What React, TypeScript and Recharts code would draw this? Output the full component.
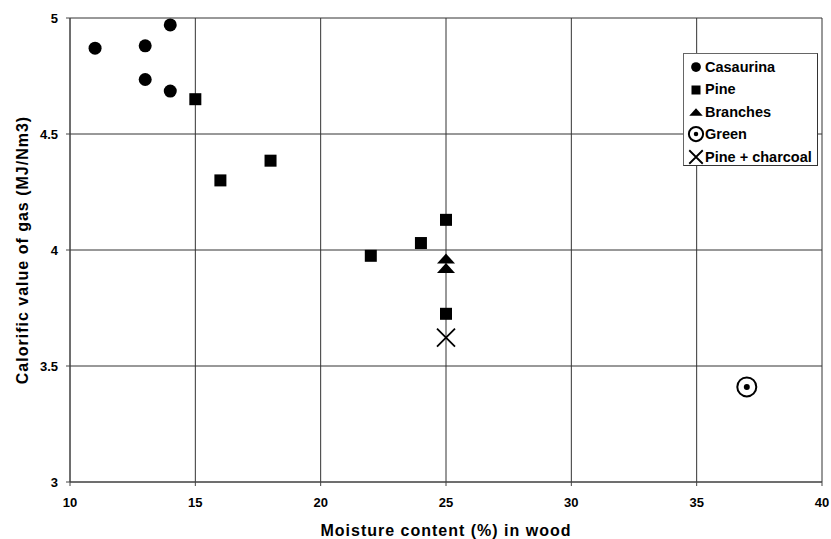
import React from 'react'
import {
  ScatterChart,
  Scatter,
  XAxis,
  YAxis,
  CartesianGrid,
  Legend,
  Label,
} from 'recharts'

// moisture content (%) / calorific value (MJ/Nm3) per wood type
const casaurinaMoisture = [11, 13, 14, 13, 14]
const casaurinaValue = [4.87, 4.88, 4.97, 4.735, 4.685]

const pineMoisture = [15, 16, 18, 22, 24, 25, 25]
const pineValue = [4.65, 4.3, 4.385, 3.975, 4.03, 4.13, 3.725]

const branchesMoisture = [25, 25]
const branchesValue = [3.963, 3.922]

const greenMoisture = [37]
const greenValue = [3.41]

const charcoalMoisture = [25]
const charcoalValue = [3.622]

const xTicks = [10, 15, 20, 25, 30, 35, 40]
const yTicks = [3, 3.5, 4, 4.5, 5]

const seriesNames = ['Casaurina', 'Pine', 'Branches', 'Green', 'Pine + charcoal']

const zip = (xs: number[], ys: number[]) => xs.map((x, i) => ({ x, y: ys[i] }))

const FONT = '"Liberation Sans", Arial, sans-serif'

const CircleMark = ({ cx, cy, s = 1 }: any) => <circle cx={cx} cy={cy} r={6.5 * s} fill="#000" />

const SquareMark = ({ cx, cy, s = 1 }: any) => (
  <rect x={cx - 6 * s} y={cy - 6 * s} width={12 * s} height={12 * s} fill="#000" />
)

const TriangleMark = ({ cx, cy, s = 1 }: any) => (
  <polygon
    points={`${cx - 9 * s},${cy + 5 * s} ${cx},${cy - 5 * s} ${cx + 9 * s},${cy + 5 * s}`}
    fill="#000"
  />
)

const GreenMark = ({ cx, cy, s = 1 }: any) => (
  <g>
    <circle cx={cx} cy={cy} r={9.5 * s} fill="none" stroke="#000" strokeWidth={2} />
    <circle cx={cx} cy={cy} r={3 * s} fill="#000" />
  </g>
)

const CrossMark = ({ cx, cy, s = 1 }: any) => {
  const a = 9 * s
  return (
    <g>
      <path d={`M${cx - 3},${cy - 3}L${cx + 3},${cy + 3}M${cx - 3},${cy + 3}L${cx + 3},${cy - 3}`} stroke="#e020e0" strokeWidth={1} />
      <path d={`M${cx - a},${cy - a}L${cx + a},${cy + a}M${cx - a},${cy + a}L${cx + a},${cy - a}`} stroke="#000" strokeWidth={1.8} />
    </g>
  )
}

const marks = [CircleMark, SquareMark, TriangleMark, GreenMark, CrossMark]

function LegendBox() {
  return (
    <div
      style={{
        boxSizing: 'border-box',
        width: 135,
        height: 113,
        border: '1px solid #666',
        borderRightColor: '#333',
        borderBottomColor: '#333',
        background: '#fff',
        padding: '2px 0 0 3px',
        fontFamily: FONT,
        fontWeight: 'bold',
        fontSize: 14.5,
        color: '#000',
        lineHeight: 1,
      }}
    >
      {seriesNames.map((name, i) => {
        const Mark = marks[i]
        return (
          <div key={name} style={{ display: 'flex', alignItems: 'center', height: 22.4 }}>
            <svg width={18} height={22} style={{ flex: 'none' }}>
              <Mark cx={9} cy={11} s={0.75} />
            </svg>
            <span style={{ whiteSpace: 'nowrap' }}>{name}</span>
          </div>
        )
      })}
    </div>
  )
}

export default function App() {
  const tickStyle = { fontFamily: FONT, fontWeight: 'bold', fontSize: 13, fill: '#000' }
  const titleStyle = {
    fontFamily: FONT,
    fontWeight: 'bold',
    fontSize: 16,
    letterSpacing: 1,
    fill: '#000',
  }
  return (
    <div style={{ position: 'absolute', left: 0, top: 0, background: '#fff' }}>
      <ScatterChart width={831} height={539} margin={{ top: 18, right: 9, bottom: 0, left: 0 }}>
        <CartesianGrid stroke="#333" strokeWidth={1} />
        <XAxis
          type="number"
          dataKey="x"
          domain={[10, 40]}
          ticks={xTicks}
          height={57}
          stroke="#444"
          tickSize={4}
          tickMargin={12}
          tick={tickStyle}
          interval={0}
        >
          <Label value="Moisture content (%) in wood" position="insideBottom" offset={3} style={titleStyle} />
        </XAxis>
        <YAxis
          type="number"
          dataKey="y"
          domain={[3, 5]}
          ticks={yTicks}
          width={70}
          stroke="#444"
          tickSize={4}
          tickMargin={8}
          tick={tickStyle}
          interval={0}
        >
          <Label
            value="Calorific value of gas (MJ/Nm3)"
            angle={-90}
            position="insideLeft"
            offset={22}
            style={{ ...titleStyle, textAnchor: 'middle' }}
          />
        </YAxis>
        <Legend
          layout="horizontal"
          verticalAlign="middle"
          align="center"
          wrapperStyle={{ top: 53, left: 683, width: 135, height: 113 }}
          content={() => <LegendBox />}
        />
        <Scatter name="Casaurina" data={zip(casaurinaMoisture, casaurinaValue)} shape={CircleMark} isAnimationActive={false} />
        <Scatter name="Pine" data={zip(pineMoisture, pineValue)} shape={SquareMark} isAnimationActive={false} />
        <Scatter name="Branches" data={zip(branchesMoisture, branchesValue)} shape={TriangleMark} isAnimationActive={false} />
        <Scatter name="Green" data={zip(greenMoisture, greenValue)} shape={GreenMark} isAnimationActive={false} />
        <Scatter name="Pine + charcoal" data={zip(charcoalMoisture, charcoalValue)} shape={CrossMark} isAnimationActive={false} />
      </ScatterChart>
    </div>
  )
}
